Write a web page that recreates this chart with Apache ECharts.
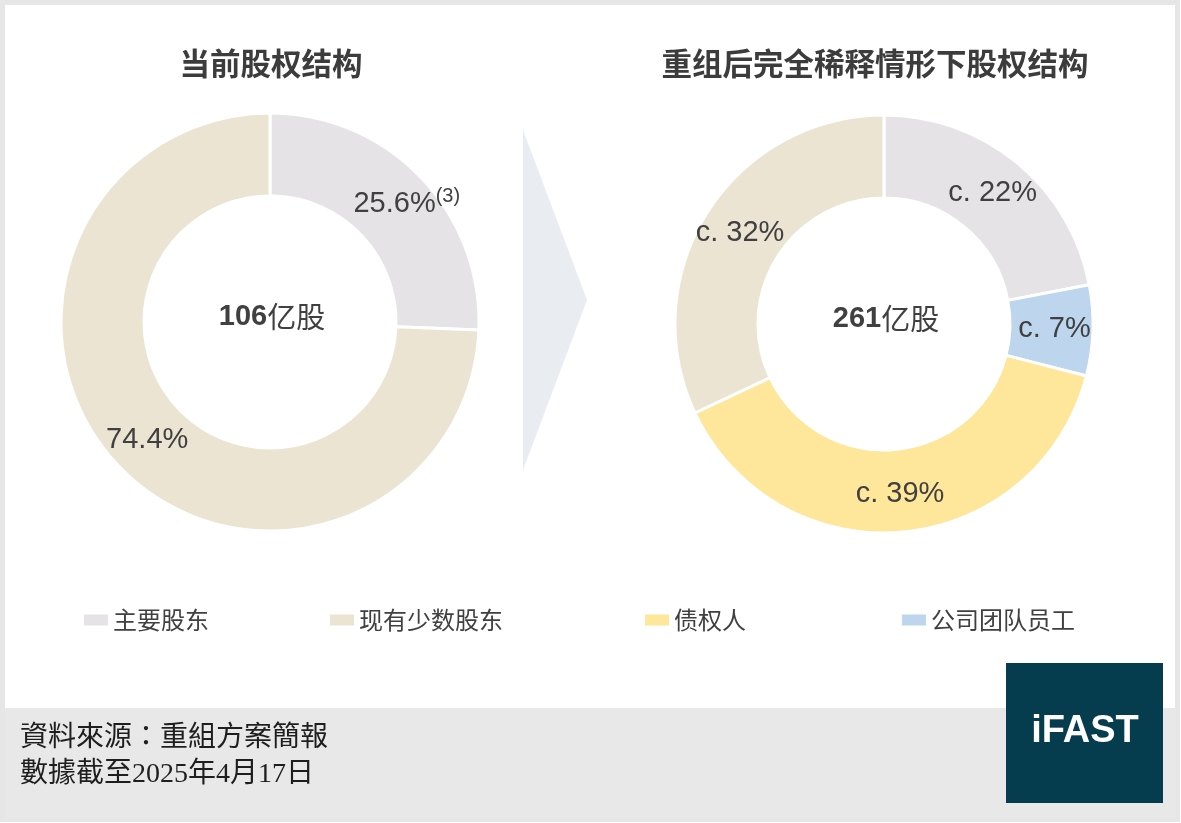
<!DOCTYPE html>
<html>
<head>
<meta charset="utf-8">
<script src="https://cdn.jsdelivr.net/npm/echarts@6/dist/echarts.min.js"></script>
<style>
html,body{margin:0;padding:0;background:#fff;}
#chart{width:1181px;height:823px;}
</style>
</head>
<body>
<div id="chart"></div>
<script>
// ---- data ----
const categories = ['主要股东', '现有少数股东', '债权人', '公司团队员工'];
const currentNames = ['主要股东', '现有少数股东'];
const currentValues = [25.6, 74.4];
const currentFootnotes = ['(3)', ''];
const postNames = ['主要股东', '公司团队员工', '债权人', '现有少数股东'];
const postValues = [22, 7, 39, 32];
const totalShares = [106, 261];
const totalUnit = '亿股';
const chartTitles = ['当前股权结构', '重组后完全稀释情形下股权结构'];
const sourceLines = ['資料來源：重組方案簡報', '數據截至2025年4月17日'];
const logoText = 'iFAST';

// ---- styles / layout ----
const colorMap = {
  '主要股东': '#e5e3e6',
  '现有少数股东': '#ebe4d2',
  '债权人': '#fee69b',
  '公司团队员工': '#bdd6ee'
};
const legendLeft = [84, 330, 645, 902];
const pieCenters = [[270, 322], [884, 324]];
const titleX = [271, 875];
const textColor = '#404040';
const cjk = "'Noto Sans CJK SC', 'Noto Sans', sans-serif";
const latin = "'Liberation Sans', Arial, 'Noto Sans CJK SC', sans-serif";

const chart = echarts.init(document.getElementById('chart'), null, {renderer: 'canvas'});

function pieSeries(names, values, center, formatter, labelOffsets) {
  return {
    type: 'pie',
    center: center,
    radius: [126, 209],
    startAngle: 90,
    clockwise: true,
    avoidLabelOverlap: false,
    silent: true,
    itemStyle: {borderColor: '#ffffff', borderWidth: 3},
    label: {
      show: true,
      position: 'inside',
      formatter: formatter,
      color: textColor,
      fontFamily: latin,
      fontSize: 29,
      textBorderWidth: 0,
      rich: {
        v: {fontSize: 29, color: textColor, fontFamily: latin, lineHeight: 34},
        s: {fontSize: 20, color: textColor, fontFamily: latin, verticalAlign: 'top', lineHeight: 20}
      }
    },
    labelLine: {show: false},
    data: names.map((n, i) => {
      const d = {name: n, value: values[i], itemStyle: {color: colorMap[n]}};
      if (labelOffsets && labelOffsets[i]) d.label = {offset: labelOffsets[i]};
      return d;
    })
  };
}

const graphics = [
  {type: 'rect', z: -10, shape: {x: 0, y: 0, width: 1181, height: 823}, style: {fill: '#ffffff'}},
  {type: 'rect', z: -9, shape: {x: 2.5, y: 2.5, width: 1175, height: 817}, style: {fill: 'none', stroke: '#e6e6e6', lineWidth: 5}},
  {type: 'rect', z: -8, shape: {x: 5, y: 708, width: 1171, height: 111}, style: {fill: '#e8e8e8'}},
  {type: 'polygon', z: -8, shape: {points: [[523, 130], [587, 300], [523, 470]]}, style: {fill: '#e9edf2'}},
  {type: 'rect', z: 10, shape: {x: 1006, y: 663, width: 157, height: 140}, style: {fill: '#053d4f'}},
  {type: 'text', z: 11, style: {text: logoText, x: 1085, y: 732, textAlign: 'center', textVerticalAlign: 'middle', fill: '#ffffff', font: "bold 38px 'Liberation Sans', Arial, sans-serif"}}
];
chartTitles.forEach((t, i) => {
  graphics.push({type: 'text', z: 5, style: {text: t, x: titleX[i], y: 63, textAlign: 'center', textVerticalAlign: 'middle', fill: '#3c3c3c', font: "bold 30.5px " + cjk}});
});
totalShares.forEach((v, i) => {
  graphics.push({type: 'text', z: 5, style: {
    text: '{b|' + v + '}{n|' + totalUnit + '}',
    x: pieCenters[i][0] + 2, y: pieCenters[i][1] - 5,
    textAlign: 'center', textVerticalAlign: 'middle',
    rich: {
      b: {fontSize: 29, fontWeight: 'bold', fill: textColor, fontFamily: latin},
      n: {fontSize: 29, fontWeight: 'normal', fill: textColor, fontFamily: cjk}
    }
  }});
});
sourceLines.forEach((t, i) => {
  graphics.push({type: 'text', z: 5, style: {text: t, x: 20, y: 739 + i * 36, textAlign: 'left', textVerticalAlign: 'middle', fill: '#1e1e1e', font: "28px 'Liberation Serif', 'Noto Sans CJK TC', serif"}});
});

const option = {
  animation: false,
  legend: categories.map((name, i) => ({
    data: [name],
    left: legendLeft[i],
    top: 608,
    padding: 0,
    icon: 'rect',
    itemWidth: 24,
    itemHeight: 11,
    itemGap: 6,
    selectedMode: false,
    itemStyle: {borderWidth: 0},
    textStyle: {fontSize: 24, color: textColor, fontFamily: cjk}
  })),
  graphic: graphics,
  series: [
    pieSeries(currentNames, currentValues, pieCenters[0], p => '{v|' + p.value + '%}' + (currentFootnotes[p.dataIndex] ? '{s|' + currentFootnotes[p.dataIndex] + '}' : ''), [[14, 0], null]),
    pieSeries(postNames, postValues, pieCenters[1], p => '{v|c. ' + p.value + '%}')
  ]
};
chart.setOption(option);
</script>
</body>
</html>
